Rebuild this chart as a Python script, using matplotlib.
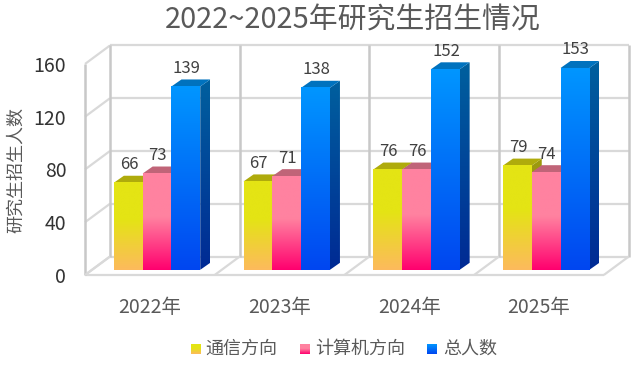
import numpy as np
import matplotlib
matplotlib.use('Agg')
import matplotlib.pyplot as plt
from matplotlib.colors import LinearSegmentedColormap
from matplotlib.patches import Polygon

plt.rcParams['font.family'] = ['Noto Sans CJK SC', 'DejaVu Sans']

years = ['2022年', '2023年', '2024年', '2025年']
series_names = ['通信方向', '计算机方向', '总人数']
tongxin = [66, 67, 76, 79]
jisuanji = [73, 71, 76, 74]
zongshu = [139, 138, 152, 153]
y_ticks = [0, 40, 80, 120, 160]

W, H = 634, 365
PX_X = 129.7      # pixels per category
PX_Y = 1.319      # pixels per value unit
TEXT = '#595959'

# oblique offsets, in data units
WALL_DX, WALL_DY = 25 / PX_X, 18.5 / PX_Y
PLANE_DX, PLANE_DY = 7.2 / PX_X, 5.2 / PX_Y
BAR_DX, BAR_DY = 10 / PX_X, 7 / PX_Y
BAR_W = 28.8 / PX_X

# colours: front stops, side top/bottom, top face
styles = [
    {'front': [(0, '#E4E414'), (0.42, '#E4E414'), (1, '#FDBA5D')],
     'side': ['#9C9A0C', '#A88A3C'], 'top': '#AFAB0C'},
    {'front': [(0, '#FF82A0'), (0.45, '#FF82A0'), (1, '#FF006E')],
     'side': ['#B05C70', '#B00050'], 'top': '#C06478'},
    {'front': [(0, '#0096FF'), (1, '#0046F0')],
     'side': ['#00609E', '#002A94'], 'top': '#0072BE'},
]

fig = plt.figure(figsize=(W / 100, H / 100), dpi=100)
ax = fig.add_axes([85 / W, (H - 275) / H, 4 * PX_X / W, 160 * PX_Y / H])
ax.patch.set_visible(False)


def wall_line(xs, ys, color='#D9D9D9', lw=1.6):
    ax.plot(xs, ys, color=color, lw=lw, clip_on=False, zorder=1, solid_capstyle='butt')


def gradient(cmap, extent, clip=None):
    grad = np.linspace(0, 1, 256).reshape(-1, 1)
    im = ax.imshow(grad, cmap=cmap, extent=extent, aspect='auto', origin='upper',
                   zorder=2, interpolation='bilinear')
    if clip is not None:
        patch = Polygon(clip, closed=True, transform=ax.transData, fc='none', ec='none')
        im.set_clip_path(patch)
    else:
        im.set_clip_path(None)
    im.set_clip_box(fig.bbox)
    return im


# walls and floor
for v in y_ticks:
    wall_line([0, WALL_DX], [v, v + WALL_DY])
    wall_line([WALL_DX, 4 + WALL_DX], [v + WALL_DY, v + WALL_DY])
wall_line([0, 4], [0, 0])
wall_line([0, 0], [0, 160], color='#C8C8C8', lw=1.8)
for i in range(5):
    wall_line([i + WALL_DX, i + WALL_DX], [WALL_DY, 160 + WALL_DY], color='#C8C8C8', lw=1.8)
    wall_line([i, i + WALL_DX], [0, WALL_DY])

# bars, left to right so that later faces cover earlier ones
for i in range(len(years)):
    vals = [tongxin[i], jisuanji[i], zongshu[i]]
    start = i + 0.5 - 1.5 * BAR_W + PLANE_DX
    for j, v in enumerate(vals):
        st = styles[j]
        x0 = start + j * BAR_W
        x1 = x0 + BAR_W
        y0 = PLANE_DY
        y1 = v + PLANE_DY
        side_cmap = LinearSegmentedColormap.from_list('s', st['side'])
        side_poly = [(x1, y0), (x1 + BAR_DX, y0 + BAR_DY), (x1 + BAR_DX, y1 + BAR_DY), (x1, y1)]
        gradient(side_cmap, [x1, x1 + BAR_DX, y0, y1 + BAR_DY], side_poly)
        ax.add_patch(Polygon([(x0, y1), (x1, y1), (x1 + BAR_DX, y1 + BAR_DY), (x0 + BAR_DX, y1 + BAR_DY)],
                             closed=True, fc=st['top'], ec='none', zorder=2, clip_on=False))
        front_cmap = LinearSegmentedColormap.from_list('f', st['front'])
        gradient(front_cmap, [x0, x1, y0, y1])
        ax.annotate(str(v), (x0 + BAR_W / 2, y1), xytext=(0.5, 13), textcoords='offset points',
                    ha='center', va='center', fontsize=12, color='#404040', zorder=5,
                    annotation_clip=False)

ax.set_xlim(0, 4)
ax.set_ylim(0, 160)
ax.set_xticks([i + 0.5 for i in range(len(years))])
ax.set_xticklabels(years, fontsize=14, color=TEXT)
ax.set_yticks(y_ticks)
ax.set_yticklabels([str(v) for v in y_ticks], fontsize=14, color='#333333')
ax.tick_params(axis='x', length=0, pad=15.5)
ax.tick_params(axis='y', length=0, pad=13.5)
for s in ax.spines.values():
    s.set_visible(False)

fig.text(353 / W, 1 - 21 / H, '2022~2025年研究生招生情况', fontsize=20.8, color=TEXT,
         ha='center', va='center')
fig.text(16 / W, 1 - 170 / H, '研究生招生人数', fontsize=13, color=TEXT, rotation=90,
         ha='center', va='center')

# legend, swatches keep the bar gradients
legend_x = [191, 300, 427]
legend_text_x = [205, 315, 443]
for j, name in enumerate(series_names):
    sw = fig.add_axes([legend_x[j] / W, (H - 354) / H, 10 / W, 10 / H])
    sw.imshow(np.linspace(0, 1, 64).reshape(-1, 1), aspect='auto',
              cmap=LinearSegmentedColormap.from_list('l', styles[j]['front']))
    sw.axis('off')
    fig.text(legend_text_x[j] / W, 1 - 349 / H, name, fontsize=13, color=TEXT,
             ha='left', va='center')

fig.savefig('out.png', dpi=100)
